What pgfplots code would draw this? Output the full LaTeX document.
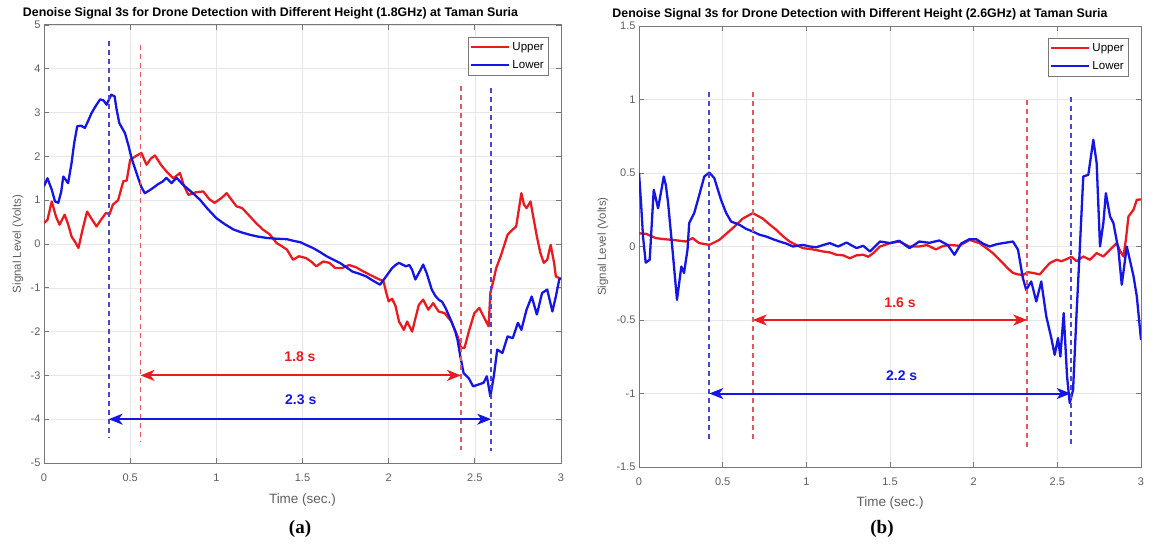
\documentclass[border=0pt]{standalone}
\usepackage{fontspec}
\setmainfont{Liberation Sans}
\newfontfamily\capfont{Liberation Serif}
\usepackage{pgfplots}
\pgfplotsset{compat=1.18}
\usetikzlibrary{arrows.meta}

\definecolor{cred}{RGB}{232,28,32}
\definecolor{cblue}{RGB}{22,22,228}
\definecolor{dred}{RGB}{226,88,98}
\definecolor{dblue}{RGB}{72,72,212}
\definecolor{gridgray}{RGB}{230,230,230}
\definecolor{axgray}{RGB}{120,120,120}
\definecolor{lblgray}{RGB}{95,95,95}

\pgfplotsset{
  mystyle/.style={
    scale only axis,
    xmin=0, xmax=3,
    xtick={0,0.5,1,1.5,2,2.5,3},
    xticklabels={0,0.5,1,1.5,2,2.5,3},
    grid=major,
    grid style={color=gridgray, line width=0.6pt},
    axis line style={color=axgray, line width=1pt},
    tick align=inside,
    major tick length=5pt,
    tick style={color=axgray, line width=0.8pt},
    tick label style={font=\fontsize{11}{12}\selectfont, text=lblgray},
    xticklabel style={yshift=-7pt},
    /pgf/number format/assume math mode=true,
    xlabel={Time (sec.)},
    ylabel={Signal Level (Volts)},
    xlabel style={font=\fontsize{13.5}{15}\selectfont, text=lblgray},
    ylabel style={font=\fontsize{11.5}{13}\selectfont, text=lblgray},
    title style={font=\fontsize{12.4}{14}\selectfont\bfseries},
    legend style={at={(1,1)}, anchor=north east, xshift=-13pt, yshift=-12pt,
      draw=axgray, fill=white, font=\fontsize{11.5}{12}\selectfont,
      inner xsep=2pt, inner ysep=3pt, row sep=5pt, cells={anchor=west}},
    legend image code/.code={\draw[#1, line width=2.2pt] (0pt,0pt) -- (38pt,0pt);},
    every axis plot/.append style={line join=round},
  },
  dline/.style={line width=1.9pt, dash pattern=on 5pt off 4pt, forget plot},
  arr/.style={line width=2pt, {Stealth[length=14pt,width=11pt,inset=4pt]}-{Stealth[length=14pt,width=11pt,inset=4pt]}, forget plot},
}

\begin{document}
\begin{tikzpicture}
\path[use as bounding box] (0pt,0pt) rectangle (1172pt,-548pt);

% ---------------- (a) ----------------
\begin{axis}[mystyle,
  at={(44pt,-463pt)}, anchor=south west,
  width=517pt, height=438pt,
  ymin=-5, ymax=5, ytick={-5,-4,...,5},
  yticklabels={-5,-4,-3,-2,-1,0,1,2,3,4,5},
  title={Denoise Signal 3s for Drone Detection with Different Height (1.8GHz) at Taman Suria},
  title style={at={([xshift=-32pt,yshift=6pt]axis description cs:0.5,1)}, anchor=center},
  xlabel style={at={([yshift=-37pt]axis description cs:0.5,0)}, anchor=center},
  ylabel style={at={([xshift=-26pt]axis description cs:0,0.5)}, anchor=center},
]
\addplot[cred, line width=2.3pt] coordinates {
(0,0.48) (0.02,0.55) (0.045,0.97) (0.07,0.62) (0.09,0.44) (0.12,0.67) (0.14,0.45)
(0.16,0.17) (0.18,0.05) (0.2,-0.09) (0.225,0.35) (0.25,0.74) (0.28,0.55) (0.305,0.40)
(0.33,0.55) (0.36,0.71) (0.38,0.68) (0.40,0.90) (0.43,1.0) (0.46,1.43) (0.48,1.45)
(0.50,1.92) (0.53,2.0) (0.565,2.08) (0.595,1.81) (0.62,1.95) (0.644,2.02) (0.68,1.80)
(0.71,1.66) (0.75,1.50) (0.789,1.62) (0.81,1.35) (0.838,1.12) (0.88,1.18) (0.924,1.20)
(0.96,1.02) (0.99,0.94) (1.03,1.05) (1.06,1.16) (1.09,1.0) (1.117,0.86) (1.15,0.82)
(1.195,0.63) (1.23,0.48) (1.27,0.33) (1.31,0.22) (1.35,0.02) (1.38,-0.05) (1.41,-0.13)
(1.445,-0.36) (1.48,-0.28) (1.52,-0.32) (1.55,-0.40) (1.58,-0.51) (1.62,-0.40) (1.656,-0.43)
(1.69,-0.55) (1.73,-0.55) (1.77,-0.48) (1.81,-0.53) (1.85,-0.62) (1.89,-0.70) (1.93,-0.78)
(1.97,-0.85) (1.985,-1.1) (2.0,-1.31) (2.02,-1.25) (2.04,-1.42) (2.06,-1.77) (2.088,-1.96)
(2.107,-1.77) (2.136,-2.0) (2.155,-1.7) (2.175,-1.39) (2.2,-1.27) (2.23,-1.5) (2.258,-1.35)
(2.29,-1.54) (2.325,-1.58) (2.364,-1.77) (2.4,-2.11) (2.42,-2.37) (2.44,-2.37) (2.468,-1.96)
(2.497,-1.58) (2.526,-1.46) (2.555,-1.69) (2.58,-1.88) (2.59,-1.12) (2.61,-0.8) (2.624,-0.55)
(2.65,-0.28) (2.69,0.21) (2.72,0.33) (2.74,0.40) (2.77,1.16) (2.785,0.90) (2.8,0.82)
(2.823,0.97) (2.84,0.6) (2.86,0.17) (2.88,-0.2) (2.9,-0.43) (2.92,-0.36) (2.94,-0.02)
(2.96,-0.43) (2.97,-0.74) (3.0,-0.80)
};
\addlegendentry{Upper}
\addplot[cblue, line width=2.3pt] coordinates {
(0,1.32) (0.02,1.50) (0.045,1.24) (0.064,0.97) (0.083,0.94) (0.1,1.2) (0.112,1.54)
(0.14,1.39) (0.16,1.85) (0.175,2.3) (0.193,2.69) (0.215,2.70) (0.237,2.65) (0.255,2.8)
(0.276,2.99) (0.3,3.15) (0.325,3.30) (0.345,3.28) (0.363,3.18) (0.39,3.41) (0.41,3.37)
(0.42,3.1) (0.437,2.76) (0.47,2.53) (0.49,2.25) (0.508,1.96) (0.53,1.7) (0.546,1.51)
(0.565,1.3) (0.585,1.16) (0.61,1.22) (0.633,1.28) (0.66,1.36) (0.69,1.43) (0.71,1.51)
(0.74,1.39) (0.77,1.51) (0.8,1.38) (0.828,1.28) (0.87,1.14) (0.905,1.01) (0.95,0.80)
(1.0,0.59) (1.05,0.45) (1.1,0.33) (1.15,0.26) (1.195,0.21) (1.24,0.17) (1.29,0.14)
(1.35,0.12) (1.41,0.11) (1.45,0.07) (1.488,0.04) (1.52,-0.02) (1.56,-0.09) (1.6,-0.18)
(1.64,-0.28) (1.68,-0.36) (1.716,-0.43) (1.75,-0.52) (1.79,-0.63) (1.83,-0.68) (1.87,-0.74)
(1.91,-0.84) (1.95,-0.93) (1.985,-0.74) (2.02,-0.55) (2.04,-0.48) (2.06,-0.43) (2.08,-0.47)
(2.1,-0.51) (2.12,-0.48) (2.136,-0.59) (2.155,-0.81) (2.185,-0.59) (2.2,-0.47) (2.22,-0.66)
(2.25,-1.04) (2.27,-1.18) (2.29,-1.27) (2.31,-1.32) (2.33,-1.46) (2.36,-1.73) (2.387,-2.0)
(2.40,-2.2) (2.416,-2.57) (2.435,-2.95) (2.464,-3.06) (2.49,-3.25) (2.52,-3.21) (2.55,-3.17)
(2.57,-3.02) (2.59,-3.48) (2.61,-3.02) (2.63,-2.41) (2.66,-2.49) (2.69,-2.11) (2.72,-2.15)
(2.75,-1.80) (2.77,-1.96) (2.8,-1.50) (2.83,-1.20) (2.86,-1.61) (2.89,-1.12) (2.92,-1.04)
(2.95,-1.54) (2.97,-1.2) (2.99,-0.81) (3.0,-0.78)
};
\addlegendentry{Lower}
\addplot[dblue, dline] coordinates {(0.375,4.63) (0.375,-4.42)};
\addplot[dred, dline] coordinates {(0.56,4.55) (0.56,-4.5)};
\addplot[dred, dline] coordinates {(2.42,3.6) (2.42,-4.7)};
\addplot[dblue, dline] coordinates {(2.595,3.56) (2.595,-4.73)};
\addplot[cred, arr] coordinates {(0.56,-3) (2.42,-3)};
\addplot[cblue, arr] coordinates {(0.375,-4) (2.595,-4)};
\node[text=cred, font=\fontsize{14}{16}\selectfont\bfseries] at (axis cs:1.485,-2.57) {1.8 s};
\node[text=cblue, font=\fontsize{14}{16}\selectfont\bfseries] at (axis cs:1.49,-3.55) {2.3 s};
\end{axis}

% ---------------- (b) ----------------
\begin{axis}[mystyle,
  at={(639pt,-467pt)}, anchor=south west,
  width=502pt, height=441pt,
  ymin=-1.5, ymax=1.5, ytick={-1.5,-1,-0.5,0,0.5,1,1.5},
  yticklabels={-1.5,-1,-0.5,0,0.5,1,1.5},
  title={Denoise Signal 3s for Drone Detection with Different Height (2.6GHz) at Taman Suria},
  title style={at={([xshift=-30pt,yshift=6pt]axis description cs:0.5,1)}, anchor=center},
  xlabel style={at={([yshift=-36pt]axis description cs:0.5,0)}, anchor=center},
  ylabel style={at={([xshift=-36pt]axis description cs:0,0.5)}, anchor=center},
]
\addplot[cred, line width=2.3pt] coordinates {
(0,0.09) (0.044,0.086) (0.1,0.057) (0.15,0.05) (0.2,0.045) (0.28,0.034) (0.32,0.057)
(0.36,0.023) (0.42,0.011) (0.48,0.045) (0.52,0.085) (0.56,0.125) (0.62,0.19) (0.68,0.227)
(0.74,0.19) (0.78,0.15) (0.82,0.114) (0.86,0.07) (0.9,0.034) (0.94,0.01) (0.98,-0.011)
(1.04,-0.02) (1.1,-0.034) (1.14,-0.04) (1.18,-0.056) (1.22,-0.06) (1.26,-0.08) (1.3,-0.06)
(1.34,-0.056) (1.37,-0.07) (1.4,-0.045) (1.44,0.0) (1.5,0.023) (1.555,0.034) (1.616,0.0)
(1.675,0.0) (1.72,0.01) (1.775,-0.02) (1.81,0.0) (1.855,0.011) (1.915,0.005) (1.975,0.045)
(2.035,0.023) (2.075,-0.01) (2.115,-0.045) (2.145,-0.08) (2.175,-0.113) (2.205,-0.15)
(2.235,-0.18) (2.265,-0.19) (2.295,-0.193) (2.325,-0.175) (2.355,-0.18) (2.395,-0.19)
(2.425,-0.15) (2.455,-0.113) (2.495,-0.09) (2.525,-0.1) (2.555,-0.086) (2.585,-0.07)
(2.615,-0.1) (2.655,-0.068) (2.695,-0.09) (2.735,-0.045) (2.775,-0.068) (2.815,-0.022)
(2.855,0.023) (2.875,-0.03) (2.895,-0.068) (2.91,0.05) (2.925,0.204) (2.955,0.25)
(2.975,0.318) (3.0,0.32)
};
\addlegendentry{Upper}
\addplot[cblue, line width=2.3pt] coordinates {
(0,0.5) (0.012,0.3) (0.024,0.068) (0.04,-0.11) (0.064,-0.09) (0.088,0.386) (0.1,0.33)
(0.114,0.26) (0.13,0.36) (0.148,0.476) (0.16,0.42) (0.174,0.295) (0.2,-0.02) (0.227,-0.363)
(0.253,-0.136) (0.269,-0.18) (0.29,-0.02) (0.3,0.16) (0.33,0.227) (0.36,0.35) (0.39,0.476)
(0.42,0.503) (0.45,0.465) (0.49,0.318) (0.52,0.23) (0.55,0.17) (0.6,0.148) (0.64,0.12)
(0.68,0.102) (0.72,0.08) (0.76,0.068) (0.8,0.05) (0.84,0.034) (0.88,0.02) (0.92,0.0)
(0.98,0.011) (1.02,0.0) (1.06,-0.005) (1.1,0.01) (1.14,0.023) (1.19,0.0) (1.24,0.027)
(1.3,-0.011) (1.34,0.005) (1.38,-0.034) (1.44,0.034) (1.5,0.023) (1.555,0.039) (1.616,-0.011)
(1.675,0.034) (1.735,0.025) (1.795,0.041) (1.845,0.01) (1.885,-0.056) (1.925,0.02) (1.975,0.05)
(2.015,0.05) (2.055,0.02) (2.095,0.0) (2.135,0.015) (2.175,0.023) (2.235,0.034) (2.265,-0.022)
(2.294,-0.215) (2.314,-0.295) (2.344,-0.238) (2.374,-0.374) (2.404,-0.238) (2.434,-0.476)
(2.464,-0.623) (2.484,-0.737) (2.504,-0.623) (2.518,-0.748) (2.538,-0.453) (2.558,-0.884)
(2.574,-1.065) (2.594,-0.975) (2.614,-0.476) (2.634,-0.02) (2.655,0.476) (2.685,0.488)
(2.715,0.726) (2.735,0.567) (2.755,0.0) (2.775,0.16) (2.79,0.363) (2.815,0.204) (2.835,0.16)
(2.865,-0.022) (2.885,-0.26) (2.915,0.0) (2.955,-0.2) (2.975,-0.34) (3.0,-0.635)
};
\addlegendentry{Lower}
\addplot[dblue, dline] coordinates {(0.42,1.05) (0.42,-1.33)};
\addplot[dred, dline] coordinates {(0.68,1.05) (0.68,-1.33)};
\addplot[dred, dline] coordinates {(2.32,1.0) (2.32,-1.38)};
\addplot[dblue, dline] coordinates {(2.58,1.02) (2.58,-1.35)};
\addplot[cred, arr] coordinates {(0.68,-0.5) (2.32,-0.5)};
\addplot[cblue, arr] coordinates {(0.42,-1) (2.58,-1)};
\node[text=cred, font=\fontsize{14}{16}\selectfont\bfseries] at (axis cs:1.56,-0.385) {1.6 s};
\node[text=cblue, font=\fontsize{14}{16}\selectfont\bfseries] at (axis cs:1.57,-0.88) {2.2 s};
\end{axis}

\node[font=\capfont\bfseries\fontsize{19}{21}\selectfont] at (300pt,-529pt) {(a)};
\node[font=\capfont\bfseries\fontsize{19}{21}\selectfont] at (882pt,-529pt) {(b)};
\end{tikzpicture}
\end{document}
